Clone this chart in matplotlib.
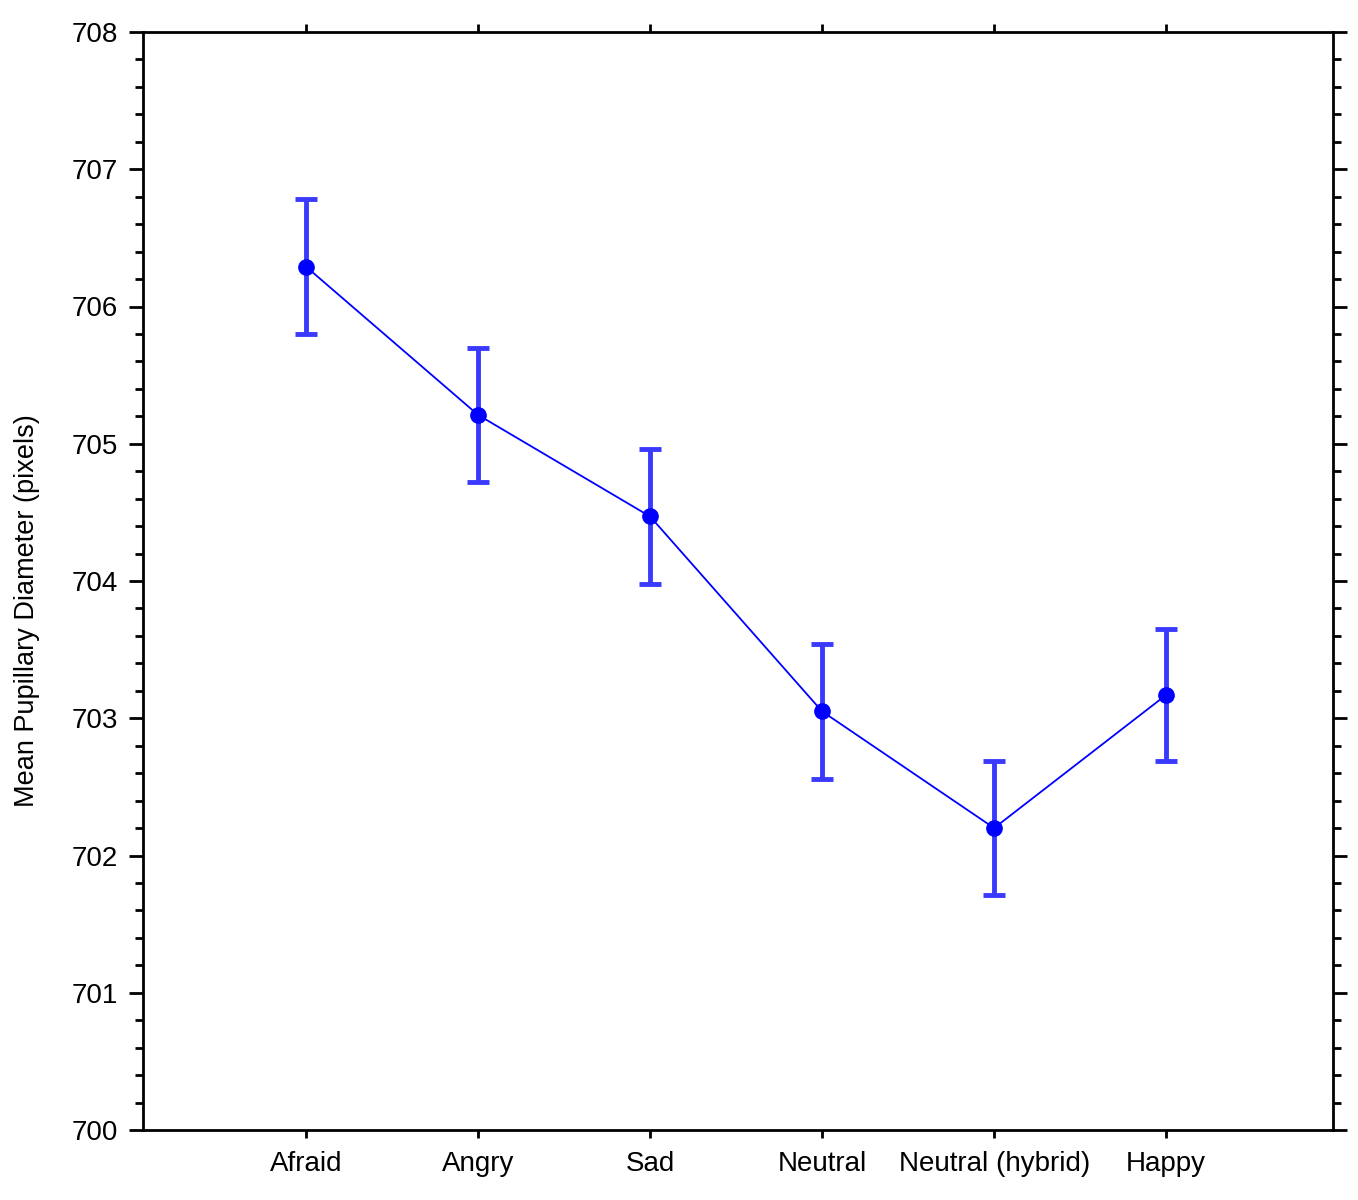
import matplotlib
matplotlib.use("Agg")
import matplotlib.pyplot as plt
from matplotlib.ticker import MultipleLocator

categories = ["Afraid", "Angry", "Sad", "Neutral", "Neutral (hybrid)", "Happy"]
means = [706.29, 705.21, 704.47, 703.05, 702.20, 703.17]
errors = [0.49, 0.49, 0.49, 0.49, 0.49, 0.48]
y_ticks = [700, 701, 702, 703, 704, 705, 706, 707, 708]

plt.rcParams['font.family'] = ['Liberation Sans', 'DejaVu Sans']

fig = plt.figure(figsize=(13.58, 12), dpi=100)
ax = fig.add_axes([143/1358, 1-1130/1200, (1333-143)/1358, (1130-32)/1200])

x = list(range(1, len(categories) + 1))
ax.errorbar(x, means, yerr=errors, fmt='none', ecolor='#3a3aff', elinewidth=3.5,
            capsize=8, capthick=3.5, zorder=2)
ax.plot(x, means, color='#0000ff', linewidth=1.3, zorder=3)
ax.plot(x, means, 'o', color='#0000ff', markersize=11, zorder=4)

ax.set_xlim(0.052, 6.97)
ax.set_ylim(700, 708)
ax.set_xticks(x)
ax.set_xticklabels(categories, fontsize=20)
ax.set_yticks(y_ticks)
ax.set_yticklabels([str(v) for v in y_ticks], fontsize=20)
ax.yaxis.set_minor_locator(MultipleLocator(0.2))

for s in ax.spines.values():
    s.set_linewidth(2)
    s.set_color('black')

ax.tick_params(axis='y', which='major', direction='out', length=10, width=2,
               left=True, right=True, pad=8)
ax.tick_params(axis='y', which='minor', direction='out', length=6, width=2,
               left=True, right=True)
ax.tick_params(axis='x', which='major', direction='out', length=6, width=2,
               bottom=True, top=True, pad=9)

ax.set_ylabel("Mean Pupillary Diameter (pixels)", fontsize=19.5, va='center')
ax.yaxis.set_label_coords(-0.0975, 0.473)

fig.savefig("out.png", dpi=100)
